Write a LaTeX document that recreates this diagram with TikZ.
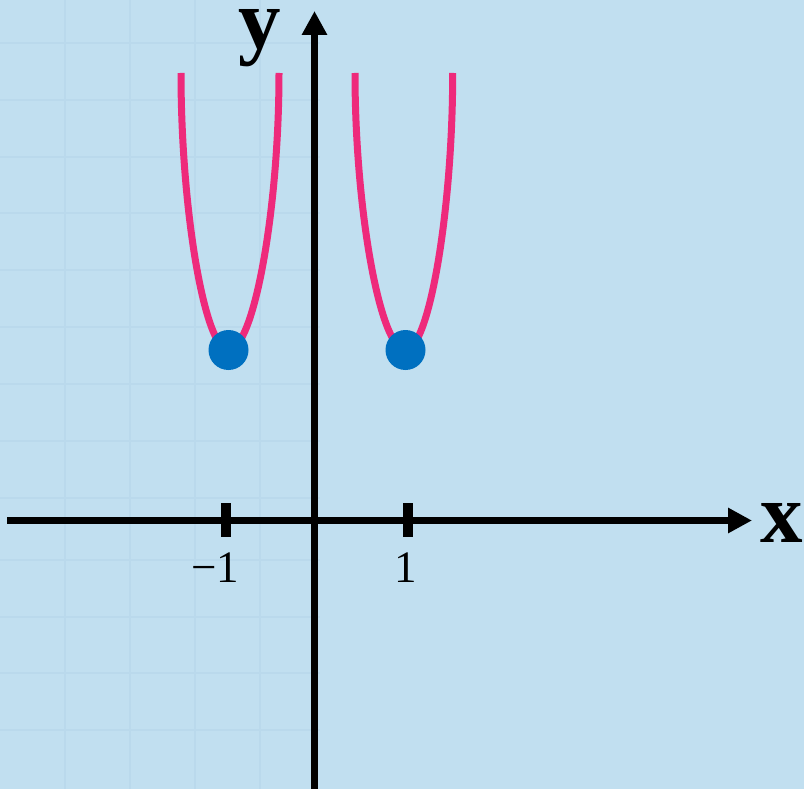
\documentclass[tikz,border=0pt]{standalone}
\usepackage{fontspec}
\setmainfont{Liberation Serif}
\usetikzlibrary{arrows.meta}
\definecolor{bg}{RGB}{193,223,240}
\definecolor{gridc}{RGB}{186,217,236}
\definecolor{curvec}{RGB}{238,42,123}
\definecolor{dotc}{RGB}{0,112,192}
\tikzset{
  axis/.style={line width=7pt, black, -{Triangle[length=24pt,width=24pt]}},
  tickmark/.style={line width=10pt, black},
  curve/.style={line width=7pt, curvec, line cap=butt},
  ptdot/.style={circle, fill=dotc, minimum size=40pt, inner sep=0pt},
  numlab/.style={font=\fontsize{45}{45}\selectfont, inner sep=0pt},
  axlab/.style={font=\fontsize{85}{85}\selectfont\bfseries, inner sep=0pt, anchor=base, text height=0.46em, text depth=0.22em},
  gridline/.style={line width=1.3pt, gridc}
}
\begin{document}
\begin{tikzpicture}[x=1pt,y=-1pt]
\fill[bg] (0,0) rectangle (804,789);
\useasboundingbox (0,0) rectangle (804,789);
% faint background grid texture
\foreach \gx in {65,130,195,260}
  \draw[gridline] (\gx,0) -- (\gx,789);
\foreach \gy in {43,100,157,213,270,327,384,441,498,560,617,673,730}
  \draw[gridline] (0,\gy) -- (320,\gy);
% coordinates
\coordinate (xs) at (7,520.5);
\coordinate (xe) at (752,520.5);
\coordinate (ys) at (314.5,789);
\coordinate (ye) at (314.5,11);
% axes
\draw[axis] (xs) -- (xe);
\draw[axis] (ys) -- (ye);
% ticks
\coordinate (tm1a) at (226,503);
\coordinate (tm1b) at (226,537);
\coordinate (tp1a) at (408,503);
\coordinate (tp1b) at (408,537);
\draw[tickmark] (tm1a) -- (tm1b);
\draw[tickmark] (tp1a) -- (tp1b);
% labels
\node[numlab] (lm1) at (215,568) {−1};
\node[numlab] (lp1) at (406,568) {1};
\node[axlab] (lx) at (782,542) {x};
\node[axlab] (ly) at (260,49) {y};
% curves
\coordinate (lmin) at (228.5,350);
\coordinate (rmin) at (405.5,350);
\draw[curve] (181,73) .. controls (181,210) and (204.75,350) .. (lmin)
  .. controls (253.75,350) and (279,210) .. (279,73);
\draw[curve] (355,73) .. controls (355,210) and (380.25,350) .. (rmin)
  .. controls (429.1,350) and (452.7,210) .. (452.7,73);
% points
\node[ptdot] (pl) at (lmin) {};
\node[ptdot] (pr) at (rmin) {};
\end{tikzpicture}
\end{document}
